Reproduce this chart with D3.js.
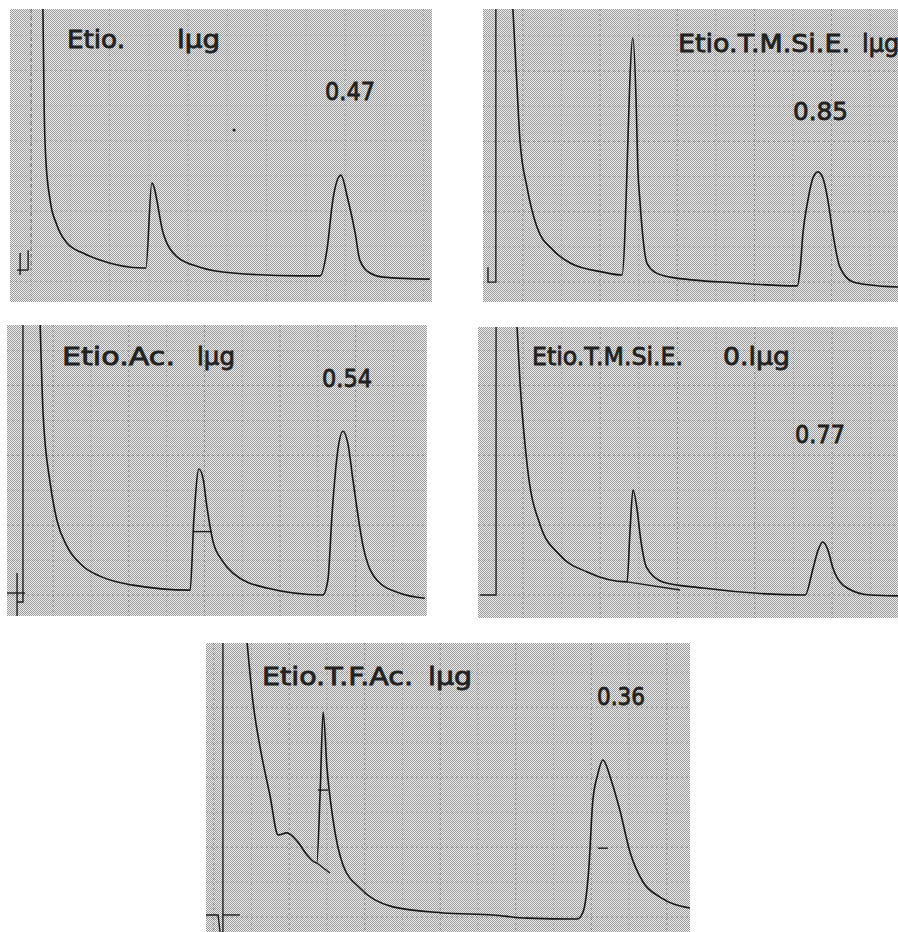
<!DOCTYPE html>
<html>
<head>
<meta charset="utf-8">
<script src="https://d3js.org/d3.v7.min.js"></script>
<style>
  body { margin: 0; background: #fff; }
  svg { display: block; }
  .label { font-family: "DejaVu Sans", sans-serif; font-size: 24px; fill: #222; stroke: #222; stroke-width: 0.8px; }
</style>
</head>
<body>
<svg id="chart" width="898" height="932"></svg>
<script>
// ---- data: recorder traces, [time units 0-100 across the strip, response 0-100] ----
var compounds = ["Etio.", "Etio.T.M.Si.E.", "Etio.Ac.", "Etio.T.M.Si.E.", "Etio.T.F.Ac."];
var amounts = ["lμg", "lμg", "lμg", "0.lμg", "lμg"];
var ratios = ["0.47", "0.85", "0.54", "0.77", "0.36"];

var etioTrace = [
  [7.8,100],[8.1,65.5],[8.5,48.5],[9.5,34.8],[11.1,26.3],[13.5,20.1],[17.3,16.7],[21.3,14.3],[31.5,11.6],
  [32.2,11.6],[33.6,40.6],[36.3,23.5],[39.6,15.4],[45.0,11.9],[52.8,9.9],[68.7,8.9],[73.5,8.9],
  [75.1,17.7],[76.5,34.8],[78.4,43.3],[80.1,34.8],[81.8,23.5],[82.9,14.3],[85.3,9.9],[88.4,8.5],[99.5,7.8]
];
var etioTmsiTrace = [
  [7.2,100],[8.2,73.4],[8.9,55.3],[10.6,39.2],[13.0,25.6],[16.9,17.7],[21.0,13.3],[28.9,10.2],[33.5,9.2],
  [36.1,90.1],[36.9,68.3],[37.3,46.1],[37.8,34.8],[39.5,13.3],[41.4,10.2],[45.1,8.5],[61.2,6.5],[75.7,5.5],
  [76.4,10.9],[77.1,23.5],[78.3,34.8],[79.5,42.3],[80.7,44.4],[81.9,42.3],[83.1,34.8],[84.3,23.5],[86.0,11.9],
  [89.2,6.8],[93.3,5.8],[100,5.1]
];
var etioAcTrace = [
  [7.9,100],[8.6,69.3],[10.2,46.4],[11.9,32.8],[14.3,23.9],[18.1,17.1],[22.1,13.7],[30.0,10.6],[43.6,8.9],
  [44.5,33.4],[45.7,50.5],[46.7,47.1],[47.6,37.5],[49.0,25.9],[51.2,19.1],[53.8,14.7],[61.9,9.6],[75.2,7.2],
  [76.4,12.3],[77.4,35.2],[78.8,57.3],[80.0,63.5],[81.2,59.0],[82.4,46.4],[84.8,23.9],[88.1,12.3],[93.6,7.8],[99.5,6.1]
];
var etioTmsiLowTrace = [
  [9.3,100],[10.0,81.1],[11.7,52.6],[14.8,32.0],[19.5,21.6],[26.0,15.8],[35.5,12.4],
  [36.2,30.2],[36.9,44.0],[37.9,37.1],[38.6,28.5],[40.2,17.2],[44.0,12.4],[53.6,10.3],[77.9,7.9],
  [79.8,17.2],[81.0,23.4],[82.1,26.1],[83.3,23.4],[84.5,17.2],[87.9,10.3],[93.3,7.9],[100,7.6]
];
var etioTfacTrace = [
  [8.5,100],[9.7,79.6],[11.2,63.7],[13.2,47.4],[14.9,33.6],[16.7,34.3],[19.0,31.1],[20.9,26.6],[22.9,23.9],
  [23.6,49.1],[24.2,76.1],[25.0,56.7],[26.2,39.4],[28.3,23.2],[31.8,15.2],[38.6,8.7],[49.0,6.6],[59.3,5.9],
  [66.3,4.8],[76.7,4.5],[77.9,6.9],[79.1,22.1],[79.9,45.0],[80.9,54.3],[82.0,59.5],[83.7,52.6],[85.5,42.2],
  [87.6,27.7],[90.3,17.3],[93.8,12.1],[100,8.3]
];

// pen start marks and hand-drawn baseline / half-height strokes
var etioMarks = [[[2.4,16.7],[2.4,9.2]], [[1.7,10.9],[4.3,10.9]], [[4.3,17.7],[4.3,10.9]]];
var etioTmsiMarks = [[[1.2,11.9],[1.2,6.8],[3.1,6.8],[3.1,100]]];
var etioAcMarks = [[[3.8,100],[3.8,4.8],[2.4,4.8]], [[2.4,14.8],[2.4,0]], [[0,7.9],[4.3,7.9]], [[44.5,29.0],[48.8,29.0]]];
var etioTmsiLowMarks = [[[4.3,100],[4.3,7.9],[0.5,7.9]], [[35.5,12.4],[48.1,9.6]]];
var etioTfacMarks = [[[3.5,100],[3.5,0]], [[0,5.9],[2.5,5.9],[2.9,0]], [[3.5,5.9],[7.0,5.9]],
  [[22.9,23.9],[25.6,20.4]], [[23.1,49.1],[25.2,49.1]], [[81.0,29.0],[83.0,29.0]]];

// ---- layout ----
var layout = [
  { box: [10, 9, 432, 302], gx: [5, 9.3], gy: [7, 12], gridOp: 0.45,
    name: [67, 48, 58], amt: [177, 48, 43], ratio: [325, 100, 50], dash: true },
  { box: [483, 9, 898, 302], gx: [9.6, 9.3], gy: [6.8, 12], gridOp: 0.8,
    name: [678, 52, 172], amt: [862, 52, 0], ratio: [793, 120, 55] },
  { box: [7, 325, 427, 616], gx: [11, 9], gy: [7.2, 12], gridOp: 0.8,
    name: [62, 365, 113], amt: [197, 365, 38], ratio: [322, 387, 50] },
  { box: [478, 327, 898, 618], gx: [10.7, 9.2], gy: [7.9, 12], gridOp: 0.8,
    name: [532, 365, 151], amt: [723, 365, 67], ratio: [795, 443, 50] },
  { box: [206, 643, 690, 932], gx: [1.6, 7.8], gy: [5.2, 12.1], gridOp: 0.8,
    name: [262, 685, 151], amt: [428, 685, 44], ratio: [597, 705, 48] }
];

var traces = [etioTrace, etioTmsiTrace, etioAcTrace, etioTmsiLowTrace, etioTfacTrace];
var marks = [etioMarks, etioTmsiMarks, etioAcMarks, etioTmsiLowMarks, etioTfacMarks];

var svg = d3.select("#chart");
var defs = svg.append("defs");

var pat = defs.append("pattern")
  .attr("id", "halftone")
  .attr("width", 2).attr("height", 2)
  .attr("patternUnits", "userSpaceOnUse");
pat.append("rect").attr("width", 2).attr("height", 2).attr("fill", "#eeeeee");
pat.append("rect").attr("width", 1).attr("height", 1).attr("fill", "#9a9a9a");
pat.append("rect").attr("x", 1).attr("y", 1).attr("width", 1).attr("height", 1).attr("fill", "#9a9a9a");

layout.forEach(function(p, i) {
  var b = p.box;
  var x = d3.scaleLinear().domain([0, 100]).range([b[0], b[2]]);
  var y = d3.scaleLinear().domain([0, 100]).range([b[3], b[1]]);

  defs.append("clipPath").attr("id", "clip" + i)
    .append("rect")
    .attr("x", b[0]).attr("y", b[1])
    .attr("width", b[2] - b[0]).attr("height", b[3] - b[1]);

  var g = svg.append("g").attr("clip-path", "url(#clip" + i + ")");

  g.append("rect")
    .attr("x", b[0]).attr("y", b[1])
    .attr("width", b[2] - b[0]).attr("height", b[3] - b[1])
    .attr("fill", "url(#halftone)");

  // chart paper rulings
  var minorY = d3.range(p.gy[0] % 3, 100, 3);
  g.selectAll("line.minor-y").data(minorY).enter().append("line")
    .attr("class", "minor-y")
    .attr("x1", b[0]).attr("x2", b[2])
    .attr("y1", function(d) { return y(d); })
    .attr("y2", function(d) { return y(d); })
    .attr("stroke", "#444").attr("stroke-opacity", 0.14 * p.gridOp)
    .attr("stroke-dasharray", "1,2");

  var majorY = d3.range(p.gy[0], 100, p.gy[1]);
  g.selectAll("line.major-y").data(majorY).enter().append("line")
    .attr("class", "major-y")
    .attr("x1", b[0]).attr("x2", b[2])
    .attr("y1", function(d) { return y(d); })
    .attr("y2", function(d) { return y(d); })
    .attr("stroke", "#222")
    .attr("stroke-opacity", function(d, k) { return (k % 2 ? 0.2 : 0.4) * p.gridOp; })
    .attr("stroke-dasharray", "2,3");

  var majorX = d3.range(p.gx[0], 100, p.gx[1]);
  g.selectAll("line.major-x").data(majorX).enter().append("line")
    .attr("class", "major-x")
    .attr("y1", b[1]).attr("y2", b[3])
    .attr("x1", function(d) { return x(d); })
    .attr("x2", function(d) { return x(d); })
    .attr("stroke", "#222")
    .attr("stroke-opacity", function(d, k) { return (k % 2 ? 0.25 : 0.45) * p.gridOp; })
    .attr("stroke-dasharray", "2,3");

  if (p.dash) {
    g.append("line")
      .attr("x1", x(5)).attr("x2", x(5))
      .attr("y1", y(100)).attr("y2", y(10.9))
      .attr("stroke", "#333").attr("stroke-opacity", 0.55)
      .attr("stroke-dasharray", "4,3");
    g.append("circle")
      .attr("cx", x(53.1)).attr("cy", y(58.7)).attr("r", 1.6)
      .attr("fill", "#222");
  }

  var markLine = d3.line()
    .x(function(d) { return x(d[0]); })
    .y(function(d) { return y(d[1]); });

  g.selectAll("path.mark").data(marks[i]).enter().append("path")
    .attr("class", "mark")
    .attr("d", markLine)
    .attr("fill", "none")
    .attr("stroke", "#1e1e1e")
    .attr("stroke-width", 1.4);

  var trace = d3.line()
    .x(function(d) { return x(d[0]); })
    .y(function(d) { return y(d[1]); })
    .curve(d3.curveMonotoneX);

  g.append("path")
    .datum(traces[i])
    .attr("d", trace)
    .attr("fill", "none")
    .attr("stroke", "#161616")
    .attr("stroke-width", 1.6)
    .attr("stroke-linejoin", "round");

  // lettering
  g.append("text").attr("class", "label")
    .attr("x", p.name[0]).attr("y", p.name[1])
    .attr("textLength", p.name[2]).attr("lengthAdjust", "spacingAndGlyphs")
    .text(compounds[i]);

  var amt = g.append("text").attr("class", "label")
    .attr("x", p.amt[0]).attr("y", p.amt[1])
    .text(amounts[i]);
  if (p.amt[2]) amt.attr("textLength", p.amt[2]).attr("lengthAdjust", "spacingAndGlyphs");

  g.append("text").attr("class", "label")
    .attr("x", p.ratio[0]).attr("y", p.ratio[1])
    .attr("textLength", p.ratio[2]).attr("lengthAdjust", "spacingAndGlyphs")
    .text(ratios[i]);
});
</script>
</body>
</html>
